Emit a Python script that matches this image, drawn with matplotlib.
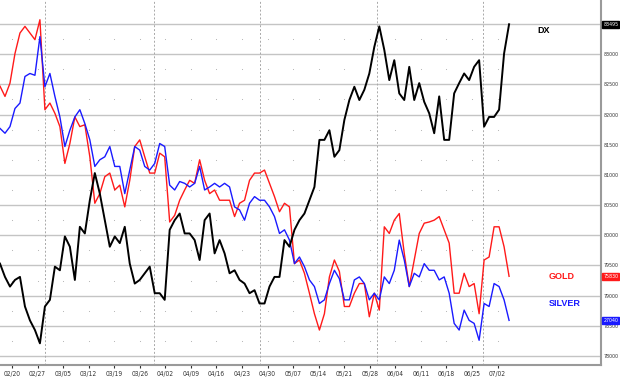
#!/usr/bin/env python3
# -*- coding: utf-8 -*-
import numpy as np
import pandas as pd
import matplotlib
matplotlib.use("Agg")
import matplotlib.pyplot as plt
import matplotlib.dates as mdates
import matplotlib.transforms as mtransforms
from matplotlib import font_manager

# values, on the right-hand axis scale
dx = [79530, 79310, 79150, 79260, 79310, 78820, 78590, 78430, 78210, 78820,
      78930, 79480, 79420, 79980, 79810, 79260, 80140, 80030, 80580, 81030,
      80690, 80250, 79810, 79980, 79870, 80140, 79530, 79200, 79260, 79370,
      79480, 79040, 79040, 78930, 80090, 80250, 80360, 80030, 80030, 79920,
      79590, 80250, 80360, 79700, 79920, 79700, 79370, 79420, 79260, 79200,
      79040, 79090, 78870, 78870, 79150, 79310, 79310, 79920, 79810, 80090,
      80250, 80360, 80580, 80800, 81580, 81580, 81740, 81300, 81410, 81910,
      82240, 82460, 82240, 82410, 82680, 83120, 83460, 83070, 82570, 82900,
      82350, 82240, 82790, 82240, 82520, 82210, 82020, 81690, 82300, 81580,
      81580, 82350, 82520, 82680, 82570, 82790, 82900, 81800, 81960, 81960,
      82080, 83010, 83495]

gold = [82470, 82300, 82520, 83010, 83350, 83460, 83350, 83240, 83570, 82080,
        82190, 82020, 81800, 81190, 81520, 81960, 81800, 81830, 81300, 80530,
        80690, 80970, 81030, 80750, 80830, 80470, 80910, 81470, 81580, 81300,
        81030, 81030, 81360, 81300, 80220, 80330, 80580, 80750, 80910, 80860,
        81250, 80910, 80690, 80750, 80580, 80580, 80580, 80310, 80530, 80580,
        80910, 81030, 81030, 81080, 80860, 80640, 80390, 80530, 80470, 79530,
        79590, 79370, 79040, 78700, 78430, 78700, 79310, 79590, 79400, 78820,
        78820, 79040, 79200, 79200, 78650, 79040, 78760, 80140, 80030, 80250,
        80360, 79700, 79150, 79590, 80030, 80200, 80220, 80250, 80310, 80090,
        79870, 79040, 79040, 79370, 79150, 79200, 78700, 79590, 79640, 80140,
        80140, 79810, 79320]

silver = [81770, 81690, 81800, 82100, 82190, 82630, 82680, 82650, 83290, 82460,
          82680, 82300, 81960, 81470, 81740, 81960, 82080, 81850, 81580, 81140,
          81250, 81300, 81470, 81140, 81140, 80690, 81080, 81470, 81410, 81140,
          81080, 81190, 81520, 81470, 80830, 80750, 80890, 80860, 80800, 80860,
          81140, 80750, 80800, 80860, 80800, 80860, 80800, 80470, 80420, 80250,
          80530, 80640, 80580, 80580, 80470, 80310, 80030, 80090, 79920, 79530,
          79640, 79480, 79260, 79150, 78870, 78930, 79200, 79420, 79280, 78930,
          78930, 79260, 79310, 79200, 78930, 79040, 78930, 79310, 79200, 79420,
          79920, 79590, 79150, 79370, 79310, 79530, 79420, 79420, 79260, 79310,
          79040, 78540, 78430, 78760, 78590, 78540, 78260, 78870, 78820, 79200,
          79150, 78930, 78590]

times = pd.date_range("2012-02-16 17:00", "2012-07-05 04:00", periods=len(dx))
week_ticks = pd.date_range("2012-02-20", "2012-07-02", freq="7D")
month_lines = pd.to_datetime(["2012-02-29", "2012-03-30", "2012-04-28",
                              "2012-05-30", "2012-06-28"])
y_ticks = np.arange(78000, 83501, 500)

# narrow font for the tiny axis labels if it is there
try:
    font_manager.findfont(font_manager.FontProperties(family="Liberation Sans Narrow"),
                          fallback_to_default=False)
    small = dict(family="Liberation Sans Narrow", size=4.8)
    xsmall = dict(family="Liberation Sans Narrow", size=5.6)
except ValueError:
    small = dict(family="DejaVu Sans", stretch="condensed", size=3.8)
    xsmall = dict(family="DejaVu Sans", stretch="condensed", size=4.8)

fig = plt.figure(figsize=(6.2, 3.8), dpi=100)
ax = fig.add_axes([0.0, 0.0395, 0.969, 0.9605])

ax.set_xlim(pd.Timestamp("2012-02-16 17:00"), pd.Timestamp("2012-07-30 07:00"))
ax.set_ylim(77851, 83897)

# grid
for v in y_ticks:
    ax.axhline(v, color="#c4c4c4", lw=1.0, zorder=0)
for m in month_lines:
    ax.axvline(m, color="#a8a8a8", lw=0.7, ls=(0, (2, 2)), zorder=0)
wx, wy = np.meshgrid(mdates.date2num(week_ticks), y_ticks[:-1] + 250)
ax.scatter(wx.ravel(), wy.ravel(), s=0.6, color="#b0b0b0", zorder=0, lw=0)

ax.plot(times, gold, color="#ff1a1a", lw=1.0, zorder=2)
ax.plot(times, silver, color="#1a1aff", lw=1.0, zorder=3)
ax.plot(times, dx, color="black", lw=1.4, zorder=4)

ax.set_xticks(week_ticks)
ax.xaxis.set_major_formatter(mdates.DateFormatter("%m/%d"))
ax.tick_params(axis="x", length=2, pad=2, colors="#333333")
for lab in ax.get_xticklabels():
    lab.set_fontproperties(font_manager.FontProperties(**xsmall))

ax.yaxis.tick_right()
ax.set_yticks(y_ticks)
ax.set_yticklabels([str(v) if v != 83500 else "" for v in y_ticks])
ax.tick_params(axis="y", length=0, pad=2, colors="#333333")
for lab in ax.get_yticklabels():
    lab.set_fontproperties(font_manager.FontProperties(**small))

for s in ["left", "top"]:
    ax.spines[s].set_visible(False)
for s in ["right", "bottom"]:
    ax.spines[s].set_color("#9a9a9a")
    ax.spines[s].set_linewidth(1.5)

# last value tags on the right axis
trans = mtransforms.blended_transform_factory(ax.transAxes, ax.transData)
tags = [(83495, "83495", "black"), (79320, "75830", "#ff1a1a"), (78590, "27040", "#1a1aff")]
for val, txt, col in tags:
    ax.text(1.004, val, txt, transform=trans, color="white",
            fontproperties=font_manager.FontProperties(**small),
            va="center", ha="left", clip_on=False, zorder=10,
            bbox=dict(boxstyle="square,pad=0.15", fc=col, ec=col))

names = [("DX", "black", "2012-07-13", 83400),
         ("GOLD", "#ff1a1a", "2012-07-16", 79320),
         ("SILVER", "#1a1aff", "2012-07-16", 78870)]
for name, col, when, val in names:
    ax.text(pd.Timestamp(when), val, name, color=col, fontsize=6.5,
            family=["Liberation Sans", "DejaVu Sans"], fontweight="bold", va="center")

plt.savefig("out.png", dpi=100)
